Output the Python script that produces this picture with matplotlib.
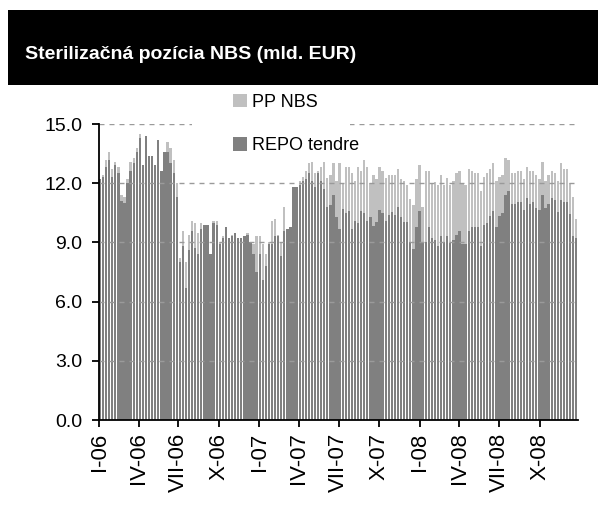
import matplotlib
matplotlib.use('Agg')
import matplotlib.pyplot as plt
from matplotlib.patches import Rectangle
import pandas as pd

# weekly values, mld. EUR
total = [
    12.2, 12.4, 13.2, 13.6, 12.7, 13.1, 12.8, 11.4, 11.3, 12.2, 13.1, 13.3, 13.8, 14.5, 12.9, 14.4, 13.4, 13.4, 12.9, 14.2, 12.6, 13.6,
    14.1, 13.8, 13.2, 12.0, 8.2, 9.6, 8.0, 9.4, 10.1, 10.0, 9.5, 10.0, 9.9, 9.9, 8.4, 10.1, 10.1, 9.0, 9.3, 9.8, 9.2, 9.4,
    9.5, 9.2, 9.2, 9.3, 9.5, 9.0, 8.9, 9.3, 9.3, 8.9, 8.4, 9.0, 10.1, 10.2, 9.3, 9.0, 10.8, 9.7, 9.8, 11.8, 11.8, 12.1,
    12.3, 12.6, 13.0, 13.1, 12.5, 12.6, 12.8, 13.1, 12.25, 12.4, 13.0, 12.1, 13.0, 12.0, 12.8, 12.8, 12.5, 12.1, 12.8, 12.6, 13.2, 12.8,
    12.0, 12.4, 12.2, 12.8, 12.6, 12.25, 12.4, 12.4, 12.4, 12.7, 12.2, 12.1, 11.9, 11.2, 10.9, 12.2, 12.9, 10.8, 12.6, 12.6, 12.0, 12.05,
    11.9, 12.4, 11.9, 12.25, 11.9, 12.1, 12.5, 12.6, 12.0, 11.9, 12.7, 12.6, 12.5, 12.5, 11.6, 12.3, 12.5, 12.7, 13.0, 12.1, 12.3, 12.4, 13.3,
    13.2, 12.5, 12.5, 12.6, 12.6, 12.2, 12.8, 12.6, 12.6, 12.4, 12.2, 13.1, 12.1, 12.4, 12.6, 12.5, 12.1, 13.0, 12.7, 12.7, 12.0, 11.3, 10.2,
]
repo = [
    12.2, 12.3, 12.8, 13.2, 12.3, 12.9, 12.5, 11.1, 11.0, 12.0, 12.6, 13.0, 13.6, 14.3, 12.9, 14.4, 13.4, 13.4, 12.9, 14.2, 12.6, 13.6,
    13.6, 13.0, 12.5, 11.3, 8.0, 8.8, 6.7, 8.6, 9.6, 8.7, 8.4, 9.7, 9.9, 9.9, 8.4, 10.0, 9.9, 8.9, 9.2, 9.8, 9.2, 9.3,
    9.5, 9.2, 9.2, 9.3, 9.4, 9.0, 8.4, 7.5, 8.4, 7.1, 7.8, 8.9, 8.9, 9.3, 9.4, 8.3, 9.6, 9.7, 9.8, 11.8, 11.8, 11.9,
    12.1, 12.2, 12.5, 12.1, 11.8, 12.5, 12.1, 11.7, 10.8, 10.9, 11.4, 10.3, 9.7, 10.7, 10.5, 10.6, 9.7, 10.1, 10.0, 10.6, 10.5, 10.1,
    10.3, 9.85, 10.05, 10.65, 10.5, 10.1, 10.4, 10.55, 10.4, 10.8, 10.3, 10.05, 10.05, 9.0, 8.65, 9.8, 10.6, 9.0, 9.0, 9.8, 9.2, 9.1,
    8.8, 9.3, 9.0, 9.3, 8.95, 9.1, 9.4, 9.6, 8.9, 8.9, 9.6, 9.8, 9.8, 9.8, 8.8, 9.9, 10.0, 10.35, 10.6, 9.8, 10.35, 10.5, 11.4,
    11.6, 10.95, 10.95, 11.05, 11.05, 10.65, 11.25, 10.95, 11.05, 10.75, 10.65, 11.4, 10.75, 10.95, 11.25, 11.15, 10.55, 11.15, 11.05, 11.05, 10.45, 9.3, 9.2,
]
pp_nbs = [t - r for t, r in zip(total, repo)]
weeks = pd.date_range('2006-01-03', periods=len(repo), freq='7D')

tick_dates = pd.date_range('2006-01-01', '2008-10-01', freq='QS')
roman = {1: 'I', 4: 'IV', 7: 'VII', 10: 'X'}
tick_labels = [f"{roman[d.month]}-{d.strftime('%y')}" for d in tick_dates]
y_ticks = [0, 3, 6, 9, 12, 15]

DARK = '#808080'
LIGHT = '#c0c0c0'

plt.rcParams['font.family'] = ['Liberation Sans', 'DejaVu Sans']

fig = plt.figure(figsize=(5.98, 5.32), dpi=100)

# black title banner
fig.patches.append(Rectangle((0.0134, 0.840), 0.99, 0.141, transform=fig.transFigure,
                             facecolor='black', edgecolor='none', zorder=0))
fig.text(0.042, 0.897, 'Sterilizačná pozícia NBS (mld. EUR)', color='white',
         fontsize=14, fontweight='bold', va='center', ha='left')

ax = fig.add_axes([0.1656, 0.2105, 0.801, 0.5564])
ax.bar(weeks, repo, width=5.3, color=DARK, label='REPO tendre', zorder=2)
ax.bar(weeks, pp_nbs, width=5.3, bottom=repo, color=LIGHT, label='PP NBS', zorder=2)

ax.set_xlim(pd.Timestamp('2006-01-01'), pd.Timestamp('2008-12-27'))
ax.set_ylim(0, 15)
ax.set_yticks(y_ticks)
ax.set_yticklabels([f"{v:.1f}" for v in y_ticks], fontsize=14)
ax.set_xticks(tick_dates)
ax.set_xticklabels(tick_labels, rotation=90, fontsize=16)

ax.yaxis.grid(True, color='#9a9a9a', linestyle=(0, (3.6, 3.6)), linewidth=1.0, zorder=3)
ax.set_axisbelow(False)
for s in ['top', 'right']:
    ax.spines[s].set_visible(False)
for s in ['left', 'bottom']:
    ax.spines[s].set_linewidth(1.3)
    ax.spines[s].set_zorder(4)
ax.tick_params(axis='both', direction='out', length=5, width=1.3)
ax.tick_params(axis='y', pad=7)
ax.tick_params(axis='x', pad=4)

# white legend area (wider on the left than the entries, as in the source)
ax.add_patch(Rectangle((0.194, 0.875), 0.33, 0.26, transform=ax.transAxes,
                       facecolor='white', edgecolor='none', zorder=4, clip_on=False))
handles, labels = ax.get_legend_handles_labels()
leg = ax.legend(handles[::-1], labels[::-1], loc='upper left',
                bbox_to_anchor=(0.25, 1.15), fontsize=13, frameon=False,
                handlelength=0.75, handleheight=0.75, handletextpad=0.3,
                labelspacing=1.45, borderpad=0.3)
leg.set_zorder(5)

fig.savefig('out.png', dpi=100)
